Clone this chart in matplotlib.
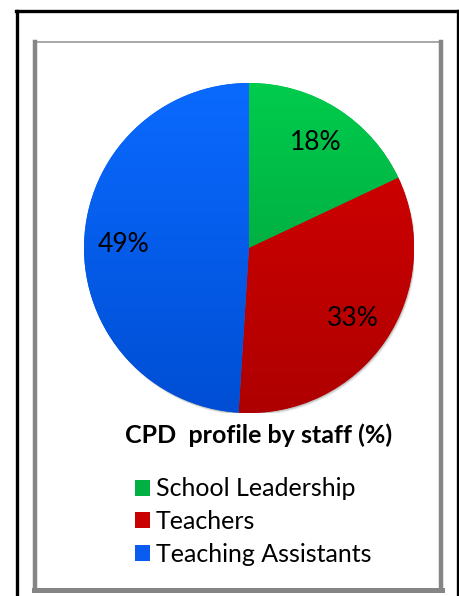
import matplotlib.pyplot as plt
import numpy as np
from matplotlib.colors import LinearSegmentedColormap
from matplotlib.patches import Patch
from matplotlib.lines import Line2D

# data
categories = ["School Leadership", "Teachers", "Teaching Assistants"]
shares = [18, 33, 49]
title = "CPD  profile by staff (%)"

# gradient colours (top, bottom) for each slice
grad_colors = [("#00CC4C", "#00963A"), ("#D80000", "#AE0000"), ("#0A6AFF", "#004ED4")]
flat_colors = ["#00B043", "#C80000", "#0A5CF0"]

W, H = 460, 596
fig = plt.figure(figsize=(W / 100, H / 100), dpi=100)
fig.patch.set_facecolor("white")


def px(x, y):
    return x / W, 1 - y / H


# outer black frame
fig.add_artist(Line2D([16.5 / W, 16.5 / W], [0, 1 - 11 / H], color="black", lw=2.4, transform=fig.transFigure))
fig.add_artist(Line2D([458 / W, 458 / W], [0, 1 - 11 / H], color="black", lw=2.4, transform=fig.transFigure))
fig.add_artist(Line2D([16 / W, 459 / W], [1 - 11 / H, 1 - 11 / H], color="black", lw=2.4, transform=fig.transFigure))

# inner grey box
fig.add_artist(Line2D([37 / W, 440 / W], [1 - 42 / H, 1 - 42 / H], color="#A8A8A8", lw=1.4, transform=fig.transFigure))
fig.add_artist(Line2D([35 / W, 35 / W], [1 - 590 / H, 1 - 42 / H], color="#858585", lw=3.2, transform=fig.transFigure))
fig.add_artist(Line2D([441 / W, 441 / W], [1 - 590 / H, 1 - 42 / H], color="#858585", lw=3.2, transform=fig.transFigure))
fig.add_artist(Line2D([34 / W, 442 / W], [1 - 589.5 / H, 1 - 589.5 / H], color="#858585", lw=3.6, transform=fig.transFigure))

# pie axes: centre (249, 248), radius 165 px
cx, cy, r = 249, 248, 165
ax = fig.add_axes([(cx - r) / W, (H - cy - r) / H, 2 * r / W, 2 * r / H])

# soft shadow under the pie
for off, a in [(3.0, 0.06), (2.0, 0.10), (1.0, 0.14)]:
    ax.add_patch(plt.Circle((off / r * 0.6, -off / r * 0.9), 1.0, color="black", alpha=a, lw=0, zorder=0))

wedges, texts, autotexts = ax.pie(
    shares, colors=flat_colors, startangle=90, counterclock=False, radius=1,
    autopct="%d%%", pctdistance=0.76,
    textprops=dict(fontsize=19, family="Lato", color="black"),
    wedgeprops=dict(linewidth=0),
)

grad = np.linspace(1, 0, 256).reshape(-1, 1)
for w, (top, bot) in zip(wedges, grad_colors):
    cmap = LinearSegmentedColormap.from_list("g", [bot, top])
    im = ax.imshow(grad, extent=(-1, 1, -1, 1), cmap=cmap, aspect="auto", zorder=1, origin="upper")
    im.set_clip_path(w)
    w.set_zorder(1)
for t in autotexts:
    t.set_zorder(3)

ax.set_xlim(-1, 1)
ax.set_ylim(-1, 1)
ax.set_aspect("equal")
ax.axis("off")

# title
fig.text(*px(259, 435), title, ha="center", va="center", fontsize=18, fontweight="bold", family="Lato")

# legend
handles = [Patch(facecolor=c, edgecolor="none") for c in flat_colors]
fig.legend(handles, categories, loc="upper left", bbox_to_anchor=px(112, 455),
           frameon=False, prop=dict(family="Lato", size=18),
           handlelength=0.6, handleheight=0.6, handletextpad=0.25, labelspacing=0.38)

fig.savefig("out.png", dpi=100)
